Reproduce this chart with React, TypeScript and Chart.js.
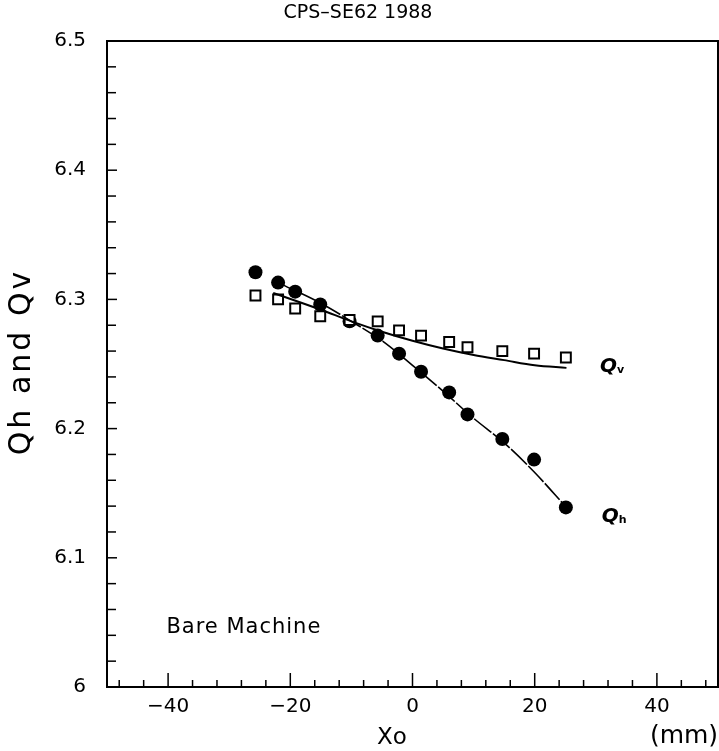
import React, { useEffect, useRef } from "react";
import { Chart, registerables } from "chart.js";

Chart.register(...registerables);

const xPositions = [-25.7, -22.0, -19.2, -15.1, -10.3, -5.7, -2.2, 1.4, 6.0, 9.0, 14.7, 19.9, 25.1];
const qhValues = [6.321, 6.313, 6.306, 6.296, 6.283, 6.272, 6.258, 6.244, 6.228, 6.211, 6.192, 6.176, 6.139];
const qvValues = [6.303, 6.300, 6.293, 6.287, 6.284, 6.283, 6.276, 6.272, 6.267, 6.263, 6.260, 6.258, 6.255];

const qhFitX = [-22, -15, -10, -5, 0, 5, 10, 15, 20, 25];
const qhFitValues = [6.313, 6.297, 6.283, 6.268, 6.249, 6.229, 6.208, 6.189, 6.166, 6.140];
const qvFitX = [-22.8, -15, -10, -5, 0, 5, 10, 15, 20, 25.2];
const qvFitValues = [6.305, 6.292, 6.283, 6.275, 6.268, 6.262, 6.257, 6.253, 6.249, 6.247];

const xMajorTicks = [-40, -20, 0, 20, 40];
const yMajorTicks = [6.0, 6.1, 6.2, 6.3, 6.4, 6.5];
const xMinorStep = 4;
const yMinorStep = 0.02;

const FONT = "'DejaVu Sans', sans-serif";

const framePlugin = {
  id: "framePlugin",
  afterDatasetsDraw(chart: any) {
    const { ctx, chartArea, scales } = chart;
    const xs = scales.x;
    const ys = scales.y;
    const { left, right, top, bottom } = chartArea;
    ctx.save();
    ctx.strokeStyle = "#000";
    ctx.lineWidth = 2;
    ctx.strokeRect(left, top, right - left, bottom - top);
    ctx.lineWidth = 1.5;
    // x ticks
    for (let v = -48; v <= 48.001; v += xMinorStep) {
      const isMajor = xMajorTicks.some((m) => Math.abs(m - v) < 1e-6);
      const px = xs.getPixelForValue(v);
      ctx.beginPath();
      ctx.moveTo(px, bottom);
      ctx.lineTo(px, bottom - (isMajor ? 14 : 7));
      ctx.stroke();
    }
    // y ticks
    for (let v = 6.0; v <= 6.5001; v += yMinorStep) {
      const py = ys.getPixelForValue(v);
      const isMajor = yMajorTicks.some((m) => Math.abs(m - v) < 1e-6);
      ctx.beginPath();
      ctx.moveTo(left, py);
      ctx.lineTo(left + (isMajor ? 10 : 9), py);
      ctx.stroke();
    }
    // texts
    ctx.fillStyle = "#000";
    ctx.textAlign = "center";
    ctx.textBaseline = "middle";
    (ctx as any).letterSpacing = "0px";
    ctx.font = `19px ${FONT}`;
    ctx.fillText("CPS\u2013SE62 1988", 358, 13);

    (ctx as any).letterSpacing = "1px";
    ctx.font = `21px ${FONT}`;
    ctx.fillText("Bare Machine", xs.getPixelForValue(-27.6), ys.getPixelForValue(6.046));

    (ctx as any).letterSpacing = "0px";
    ctx.font = `23px ${FONT}`;
    ctx.fillText("Xo", 392, 738);
    ctx.font = `25px ${FONT}`;
    ctx.fillText("(mm)", 684, 736);

    // y title
    ctx.save();
    ctx.translate(22, 362);
    ctx.rotate(-Math.PI / 2);
    ctx.font = `30px ${FONT}`;
    (ctx as any).letterSpacing = "3px";
    ctx.fillText("Qh and Qv", 0, 0);
    ctx.restore();

    // curve labels
    const drawQ = (sub: string, xv: number, yv: number) => {
      const px = xs.getPixelForValue(xv);
      const py = ys.getPixelForValue(yv);
      ctx.textAlign = "left";
      ctx.font = `italic bold 20px ${FONT}`;
      ctx.fillText("Q", px - 13, py);
      ctx.font = `bold 11px ${FONT}`;
      ctx.fillText(sub, px + 4, py + 4);
    };
    (ctx as any).letterSpacing = "0px";
    drawQ("v", 32.8, 6.248);
    drawQ("h", 33.1, 6.132);
    ctx.restore();
  },
};

export default function App() {
  const canvasRef = useRef<HTMLCanvasElement | null>(null);

  useEffect(() => {
    document.body.style.margin = "0";
    const canvas = canvasRef.current;
    if (!canvas) return;
    const chart = new Chart(canvas, {
      type: "scatter",
      data: {
        datasets: [
          {
            label: "Qh fit",
            data: qhFitX.map((x, i) => ({ x, y: qhFitValues[i] })),
            showLine: true,
            borderColor: "#000",
            borderWidth: 1.6,
            borderDash: [22, 2],
            pointRadius: 0,
            tension: 0.4,
            cubicInterpolationMode: "monotone",
          } as any,
          {
            label: "Qv fit",
            data: qvFitX.map((x, i) => ({ x, y: qvFitValues[i] })),
            showLine: true,
            borderColor: "#000",
            borderWidth: 2,
            pointRadius: 0,
            tension: 0.4,
            cubicInterpolationMode: "monotone",
          } as any,
          {
            label: "Qv",
            data: xPositions.map((x, i) => ({ x, y: qvValues[i] })),
            pointStyle: "rect",
            pointRadius: 7,
            pointBorderWidth: 2,
            pointBorderColor: "#000",
            pointBackgroundColor: "#fff",
            showLine: false,
          } as any,
          {
            label: "Qh",
            data: xPositions.map((x, i) => ({ x, y: qhValues[i] })),
            pointStyle: "circle",
            pointRadius: 7,
            pointBorderWidth: 0,
            pointBackgroundColor: "#000",
            showLine: false,
          } as any,
        ],
      },
      options: {
        animation: false,
        responsive: false,
        devicePixelRatio: 1,
        layout: { autoPadding: false, padding: { top: 41, right: 1, left: 0, bottom: 0 } },
        plugins: {
          legend: { display: false },
          title: { display: false },
          tooltip: { enabled: false },
        },
        scales: {
          x: {
            type: "linear",
            min: -50,
            max: 50,
            grid: { display: false, drawTicks: false },
            border: { display: false },
            afterFit: (s: any) => {
              s.height = 64;
              s.paddingLeft = 0;
              s.paddingRight = 0;
            },
            afterBuildTicks: (s: any) => {
              s.ticks = xMajorTicks.map((v) => ({ value: v }));
            },
            ticks: {
              padding: 8,
              color: "#000",
              font: { family: FONT, size: 20 },
              callback: (v: any) => (Number(v) < 0 ? "\u2212" + Math.abs(Number(v)) : String(v)),
            },
          },
          y: {
            type: "linear",
            min: 6.0,
            max: 6.5,
            grid: { display: false, drawTicks: false },
            border: { display: false },
            afterFit: (s: any) => {
              s.width = 107;
              s.paddingTop = 0;
              s.paddingBottom = 0;
            },
            afterBuildTicks: (s: any) => {
              s.ticks = yMajorTicks.map((v) => ({ value: v }));
            },
            ticks: {
              padding: 21,
              color: "#000",
              font: { family: FONT, size: 20 },
              callback: (v: any) => (Math.abs(Number(v) - 6) < 1e-9 ? "6" : Number(v).toFixed(1)),
            },
          },
        },
      } as any,
      plugins: [framePlugin],
    });
    return () => chart.destroy();
  }, []);

  return (
    <div style={{ width: 719, height: 751, background: "#fff" }}>
      <canvas ref={canvasRef} width={719} height={751} style={{ display: "block" }} />
    </div>
  );
}
